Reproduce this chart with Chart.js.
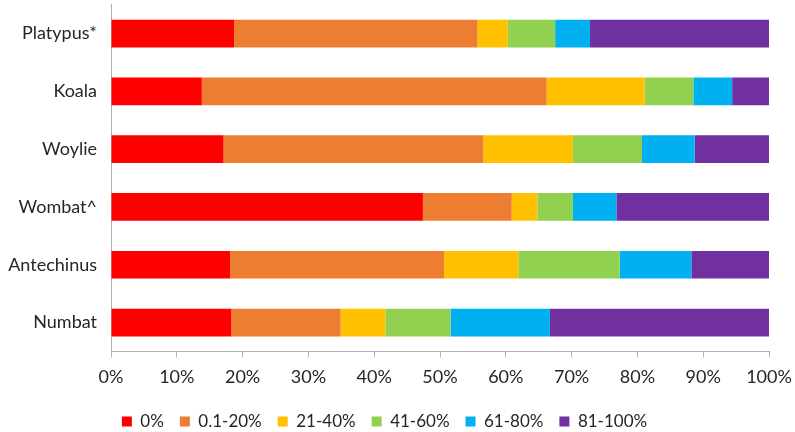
<!DOCTYPE html>
<html lang="en">
<head>
    <meta charset="UTF-8">
    <title>Stacked bar</title>
    <script src="https://cdn.jsdelivr.net/npm/chart.js"></script>
    <style>
        html, body { margin: 0; padding: 0; background: #fff; overflow: hidden; }
        #wrap { width: 795px; height: 452px; margin-top: -20px; }
    </style>
</head>
<body>
<div id="wrap"><canvas id="chart"></canvas></div>
<script>
    // categories, top to bottom
    const species = ['Platypus*', 'Koala', 'Woylie', 'Wombat^', 'Antechinus', 'Numbat'];
    const seriesNames = ['0%', '0.1-20%', '21-40%', '41-60%', '61-80%', '81-100%'];
    const seriesColors = ['#FF0000', '#ED7D31', '#FFC000', '#92D050', '#00B0F0', '#7030A0'];

    // percentages per category (same order as species)
    const pct0     = [18.7, 13.8, 17.1, 47.4, 18.1, 18.3];
    const pct0to20 = [37.0, 52.4, 39.5, 13.5, 32.5, 16.6];
    const pct21to40 = [4.6, 14.9, 13.6, 3.9, 11.3, 6.8];
    const pct41to60 = [7.2, 7.4, 10.5, 5.4, 15.4, 9.9];
    const pct61to80 = [5.3, 5.9, 8.0, 6.6, 10.9, 15.1];
    const pct81to100 = [27.2, 5.6, 11.3, 23.2, 11.8, 33.3];

    const xTicks = [0, 10, 20, 30, 40, 50, 60, 70, 80, 90, 100];

    const allSeries = [pct0, pct0to20, pct21to40, pct41to60, pct61to80, pct81to100];
    const fontFamily = 'Lato, "Liberation Sans", Arial, sans-serif';

    new Chart(document.getElementById('chart'), {
        type: 'bar',
        data: {
            labels: species,
            datasets: allSeries.map((vals, i) => ({
                label: seriesNames[i],
                data: vals,
                backgroundColor: seriesColors[i],
                borderWidth: 0,
                barPercentage: 0.48,
                categoryPercentage: 1
            }))
        },
        options: {
            indexAxis: 'y',
            responsive: true,
            maintainAspectRatio: false,
            animation: false,
            layout: { padding: { top: 0, right: 26, bottom: -8, left: 0 } },
            scales: {
                x: {
                    stacked: true,
                    min: 0,
                    max: 100,
                    afterBuildTicks: axis => { axis.ticks = xTicks.map(v => ({ value: v })); },
                    afterFit: s => { s.paddingRight = 0; s.paddingLeft = 0; },
                    border: { color: '#b0b0b0' },
                    grid: { drawOnChartArea: false, drawTicks: true, tickLength: 6, color: '#b0b0b0' },
                    ticks: {
                        callback: v => v + '%',
                        color: '#262626',
                        padding: 9,
                        maxRotation: 0,
                        font: { family: fontFamily, size: 18 }
                    }
                },
                y: {
                    stacked: true,
                    afterFit: s => { s.width = 111; },
                    border: { color: '#b0b0b0' },
                    grid: { drawOnChartArea: false, drawTicks: false },
                    ticks: {
                        color: '#262626',
                        padding: 14,
                        font: { family: fontFamily, size: 18 }
                    }
                }
            },
            plugins: {
                legend: {
                    position: 'bottom',
                    labels: {
                        boxWidth: 10,
                        boxHeight: 10,
                        padding: 16,
                        color: '#262626',
                        font: { family: fontFamily, size: 17 }
                    }
                },
                tooltip: { enabled: false }
            }
        }
    });
</script>
</body>
</html>
